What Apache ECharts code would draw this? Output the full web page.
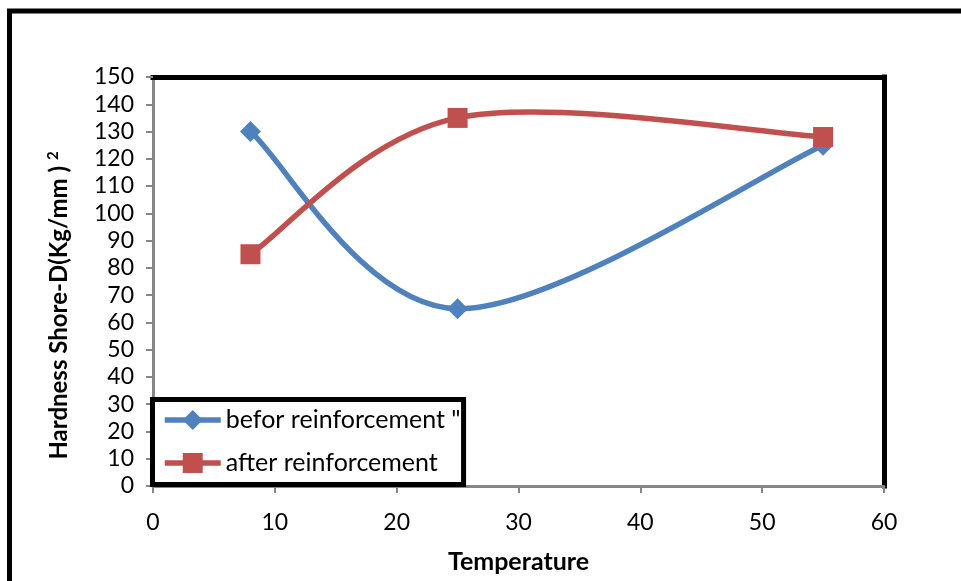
<!DOCTYPE html>
<html>
<head>
<meta charset="utf-8">
<script src="https://cdn.jsdelivr.net/npm/echarts@6/dist/echarts.min.js"></script>
<style>
html,body{margin:0;padding:0;background:#fff;}
#chart{width:961px;height:581px;}
</style>
</head>
<body>
<div id="chart"></div>
<script>
// Data
var temperature = [8, 25, 55];
var beforeValues = [130, 65, 125];
var afterValues = [85, 135, 128];
var seriesNames = ['befor reinforcement "', 'after reinforcement'];
var seriesColors = ['#4F81BD', '#C0504D'];
var xTitle = 'Temperature';
var yTitle = 'Hardness Shore-D(Kg/mm ) {sup|2}';

function pairs(xs, ys) { return xs.map(function (x, i) { return [x, ys[i]]; }); }

// Excel-like smoothed line (Catmull-Rom style Bezier through the data points, via the chart scales)
function makeSmoothRenderer(color) {
  return function (params, api) {
    var i = params.dataIndexInside;
    var n = params.dataInsideLength;
    if (i >= n - 1) return null;
    function pt(k) {
      k = Math.max(0, Math.min(n - 1, k));
      return api.coord([api.value(0, k), api.value(1, k)]);
    }
    var p0 = pt(i - 1), p1 = pt(i), p2 = pt(i + 1), p3 = pt(i + 2);
    var t = 1 / 6;
    return {
      type: 'bezierCurve',
      shape: {
        x1: p1[0], y1: p1[1], x2: p2[0], y2: p2[1],
        cpx1: p1[0] + (p2[0] - p0[0]) * t, cpy1: p1[1] + (p2[1] - p0[1]) * t,
        cpx2: p2[0] - (p3[0] - p1[0]) * t, cpy2: p2[1] - (p3[1] - p1[1]) * t
      },
      style: {stroke: color, lineWidth: 5.5, fill: null, lineCap: 'round'}
    };
  };
}

var FONT = 'Lato';
var chart = echarts.init(document.getElementById('chart'), null, {renderer: 'canvas'});
var option = {
  animation: false,
  backgroundColor: '#fff',
  textStyle: {fontFamily: FONT},
  grid: {left: 153, top: 77, right: 77, bottom: 95, show: true, borderColor: '#000', borderWidth: 1},
  graphic: [{
    type: 'rect', z: 100, silent: true,
    shape: {x: 9.5, y: 11, width: 1100, height: 1000},
    style: {fill: 'none', stroke: '#000', lineWidth: 5}
  }],
  legend: {
    orient: 'vertical', left: 152.5, top: 399.5,
    backgroundColor: '#fff', borderColor: '#000', borderWidth: 5,
    padding: [8, 3, 9, 9.5], itemGap: 18, itemWidth: 56, itemHeight: 25,
    textStyle: {fontFamily: FONT, fontSize: 25, color: '#000'},
    lineStyle: {width: 5.5, opacity: 1},
    data: seriesNames, z: 50
  },
  xAxis: [{
    type: 'value', min: 0, max: 60, interval: 10, position: 'bottom',
    name: xTitle, nameLocation: 'middle', nameGap: 63,
    nameTextStyle: {fontFamily: FONT, fontWeight: 'bold', fontSize: 25, color: '#000'},
    axisLine: {show: true, onZero: false, lineStyle: {color: '#868686', width: 3}},
    axisTick: {show: true, length: 7, lineStyle: {color: '#868686', width: 2}},
    axisLabel: {fontFamily: FONT, fontSize: 23, color: '#000', margin: 25},
    splitLine: {show: false}
  }, {
    type: 'value', min: 0, max: 60, position: 'top',
    axisLine: {show: true, onZero: false, lineStyle: {color: '#000', width: 5, cap: 'square'}},
    axisTick: {show: false}, axisLabel: {show: false}, splitLine: {show: false}
  }],
  yAxis: [{
    type: 'value', min: 0, max: 150, interval: 10, position: 'left',
    name: yTitle, nameLocation: 'middle', nameGap: 80, nameRotate: 90,
    nameTextStyle: {fontFamily: FONT, fontWeight: 'bold', fontSize: 24, color: '#000',
      padding: [0, 48, 0, 0],
      rich: {sup: {fontFamily: FONT, fontWeight: 'bold', fontSize: 15, color: '#000', verticalAlign: 'top', padding: [0, 0, 12, 0]}}},
    axisLine: {show: true, onZero: false, lineStyle: {color: '#868686', width: 3}},
    axisTick: {show: true, length: 7, lineStyle: {color: '#868686', width: 2}},
    axisLabel: {fontFamily: FONT, fontSize: 23, color: '#000', margin: 19},
    splitLine: {show: false}
  }, {
    type: 'value', min: 0, max: 150, position: 'right',
    axisLine: {show: true, onZero: false, lineStyle: {color: '#000', width: 5, cap: 'square'}},
    axisTick: {show: false}, axisLabel: {show: false}, splitLine: {show: false}
  }],
  series: [{
    name: seriesNames[0], type: 'line',
    data: pairs(temperature, beforeValues),
    symbol: 'diamond', symbolSize: 21,
    lineStyle: {color: seriesColors[0], width: 0, opacity: 0},
    itemStyle: {color: seriesColors[0]}, z: 5
  }, {
    name: seriesNames[1], type: 'line',
    data: pairs(temperature, afterValues),
    symbol: 'rect', symbolSize: 20,
    lineStyle: {color: seriesColors[1], width: 0, opacity: 0},
    itemStyle: {color: seriesColors[1]}, z: 6
  }, {
    name: seriesNames[0], type: 'custom',
    data: pairs(temperature, beforeValues),
    encode: {x: 0, y: 1},
    renderItem: makeSmoothRenderer(seriesColors[0]), z: 3
  }, {
    name: seriesNames[1], type: 'custom',
    data: pairs(temperature, afterValues),
    encode: {x: 0, y: 1},
    renderItem: makeSmoothRenderer(seriesColors[1]), z: 4
  }]
};
chart.setOption(option);
</script>
</body>
</html>
